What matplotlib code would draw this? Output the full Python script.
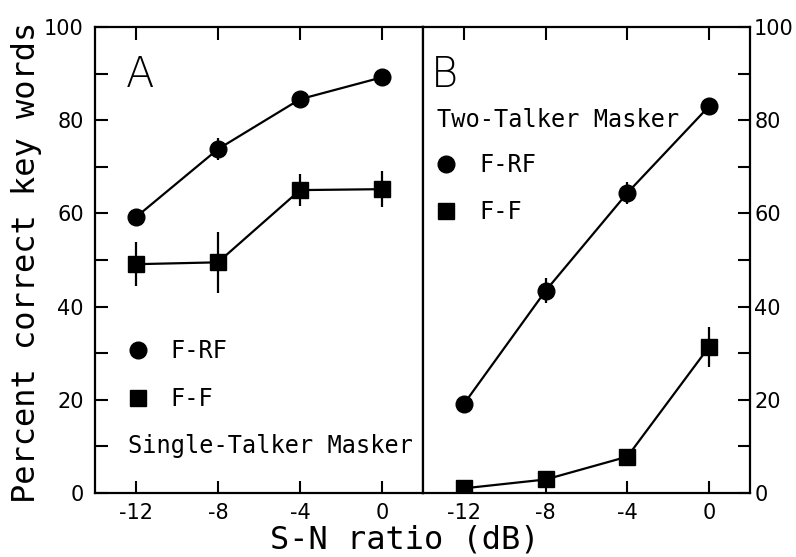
import matplotlib
matplotlib.use('Agg')
import matplotlib.pyplot as plt
from matplotlib.lines import Line2D

# S-N ratio levels (dB)
snr = [-12, -8, -4, 0]

# Panel A: single-talker masker
a_frf = [59.2, 73.8, 84.5, 89.2]
a_frf_err = [1.5, 2.3, 1.0, 1.0]
a_ff = [49.1, 49.5, 65.0, 65.2]
a_ff_err = [4.7, 6.6, 3.4, 3.8]

# Panel B: two-talker masker
b_frf = [19.1, 43.4, 64.4, 83.0]
b_frf_err = [1.5, 2.7, 2.4, 1.0]
b_ff = [1.0, 2.9, 7.8, 31.4]
b_ff_err = [0.5, 0.5, 0.8, 4.3]

yticks = list(range(0, 101, 10))
ylabels = [str(v) if v % 20 == 0 else '' for v in yticks]

plt.rcParams['font.family'] = ['DejaVu Sans Mono', 'DejaVu Sans']

fig = plt.figure(figsize=(7.96, 5.57), dpi=100)
x0, x1, xm = 95 / 796, 750 / 796, 423 / 796
y0, y1 = 1 - 493 / 557, 1 - 27 / 557
axA = fig.add_axes([x0, y0, xm - x0, y1 - y0])
axB = fig.add_axes([xm, y0, x1 - xm, y1 - y0])

for ax in (axA, axB):
    ax.set_xlim(-14, 2)
    ax.set_ylim(0, 100)
    ax.set_xticks(snr)
    ax.set_xticklabels([str(v) for v in snr], family='DejaVu Sans')
    ax.set_yticks(yticks)
    ax.tick_params(axis='both', direction='in', length=9, width=1.5,
                   labelsize=15, color='black')
    ax.tick_params(axis='x', top=True, pad=7)
    for s in ax.spines.values():
        s.set_linewidth(1.6)


def draw(ax, frf, frf_err, ff, ff_err):
    ax.errorbar(snr, frf, yerr=frf_err, color='black', lw=1.6, elinewidth=1.6,
                capsize=0, marker='o', ms=12, mfc='black', mec='black', zorder=3)
    ax.errorbar(snr, ff, yerr=ff_err, color='black', lw=1.6, elinewidth=1.6,
                capsize=0, marker='s', ms=11.5, mfc='black', mec='black', zorder=3)


draw(axA, a_frf, a_frf_err, a_ff, a_ff_err)
draw(axB, b_frf, b_frf_err, b_ff, b_ff_err)

# left panel ticks on left only
axA.tick_params(axis='y', left=True, right=False, labelleft=True, labelright=False, pad=8)
axA.set_yticklabels(ylabels, family='DejaVu Sans')
# right panel ticks on right only
axB.tick_params(axis='y', left=False, right=True, labelleft=False, labelright=True, pad=3)
axB.set_yticklabels(ylabels, family='DejaVu Sans')

handles = [Line2D([], [], ls='none', marker='o', ms=12, color='black'),
           Line2D([], [], ls='none', marker='s', ms=11.5, color='black')]
names = ['F-RF', 'F-F']
axA.legend(handles, names, loc='upper left', bbox_to_anchor=(0.094, 0.33),
           frameon=False, fontsize=17, handlelength=1.0, handletextpad=0.9,
           labelspacing=1.0, borderpad=0, borderaxespad=0, numpoints=1)
axB.legend(handles, names, loc='upper left', bbox_to_anchor=(0.034, 0.73),
           frameon=False, fontsize=17, handlelength=1.0, handletextpad=0.9,
           labelspacing=1.0, borderpad=0, borderaxespad=0, numpoints=1)

axA.text(-12.4, 10, 'Single-Talker Masker', fontsize=17, va='center', ha='left')
axB.text(-13.3, 80, 'Two-Talker Masker', fontsize=17, va='center', ha='left')

axA.text(-12.5, 89.7, 'A', fontsize=30, va='center', ha='left',
         family='DejaVu Sans', fontweight='light')
axB.text(-13.6, 89.7, 'B', fontsize=30, va='center', ha='left',
         family='DejaVu Sans', fontweight='light')

fig.text(405 / 796, 1 - 540 / 557, 'S-N ratio (dB)',
         fontsize=23, ha='center', va='center')
fig.text(27 / 796, 1 - 262 / 557, 'Percent correct key words',
         fontsize=23, ha='center', va='center', rotation=90)

fig.savefig('out.png', dpi=100)
